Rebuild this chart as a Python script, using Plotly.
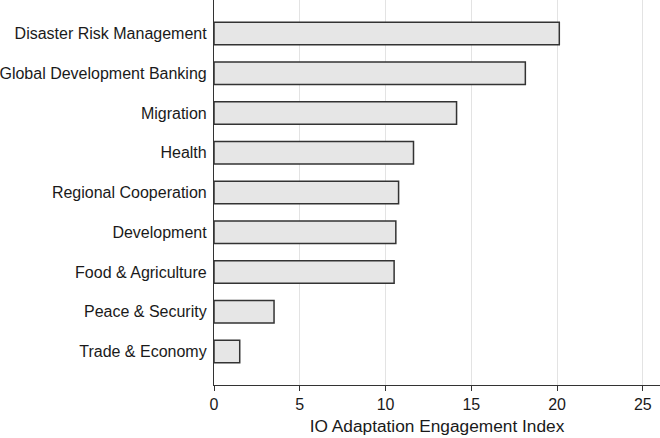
import plotly.graph_objects as go

categories = ["Disaster Risk Management", "Global Development Banking", "Migration", "Health",
              "Regional Cooperation", "Development", "Food & Agriculture", "Peace & Security",
              "Trade & Economy"]
values = [20.13, 18.15, 14.14, 11.63, 10.76, 10.6, 10.5, 3.5, 1.5]
x_ticks = [0, 5, 10, 15, 20, 25]
x_title = "IO Adaptation Engagement Index"

font_family = "Liberation Sans, Arial, Helvetica, sans-serif"

fig = go.Figure(go.Bar(
    x=values[::-1], y=categories[::-1], orientation="h",
    marker=dict(color="#e6e6e6", line=dict(color="#333333", width=1.5)),
    width=0.565,
))

fig.update_layout(
    width=660, height=438,
    margin=dict(l=214, r=0, t=0, b=53, autoexpand=False),
    paper_bgcolor="white", plot_bgcolor="white",
    font=dict(family=font_family, size=16, color="#1a1a1a"),
    showlegend=False,
)
fig.update_xaxes(
    range=[0, 26], tickvals=x_ticks, ticktext=[str(t) for t in x_ticks],
    showgrid=True, gridcolor="#e3e3e3", gridwidth=1,
    showline=True, linecolor="#333333", linewidth=1.2,
    ticks="outside", ticklen=5, tickcolor="#333333", tickwidth=1.2,
    zeroline=False, automargin=False,
    title=dict(text=x_title, standoff=7, font=dict(size=17.3)),
    tickfont=dict(size=16),
)
fig.update_yaxes(
    range=[-0.84, 8.84],
    showgrid=False, showline=True, linecolor="#333333", linewidth=1.2,
    ticks="outside", ticklen=3, tickcolor="rgba(0,0,0,0)",
    automargin=False,
    tickfont=dict(size=16),
)

fig.write_html("out.html",
               config={"displayModeBar": False},
               post_script="document.body.style.margin='0';document.body.style.overflow='hidden';")
